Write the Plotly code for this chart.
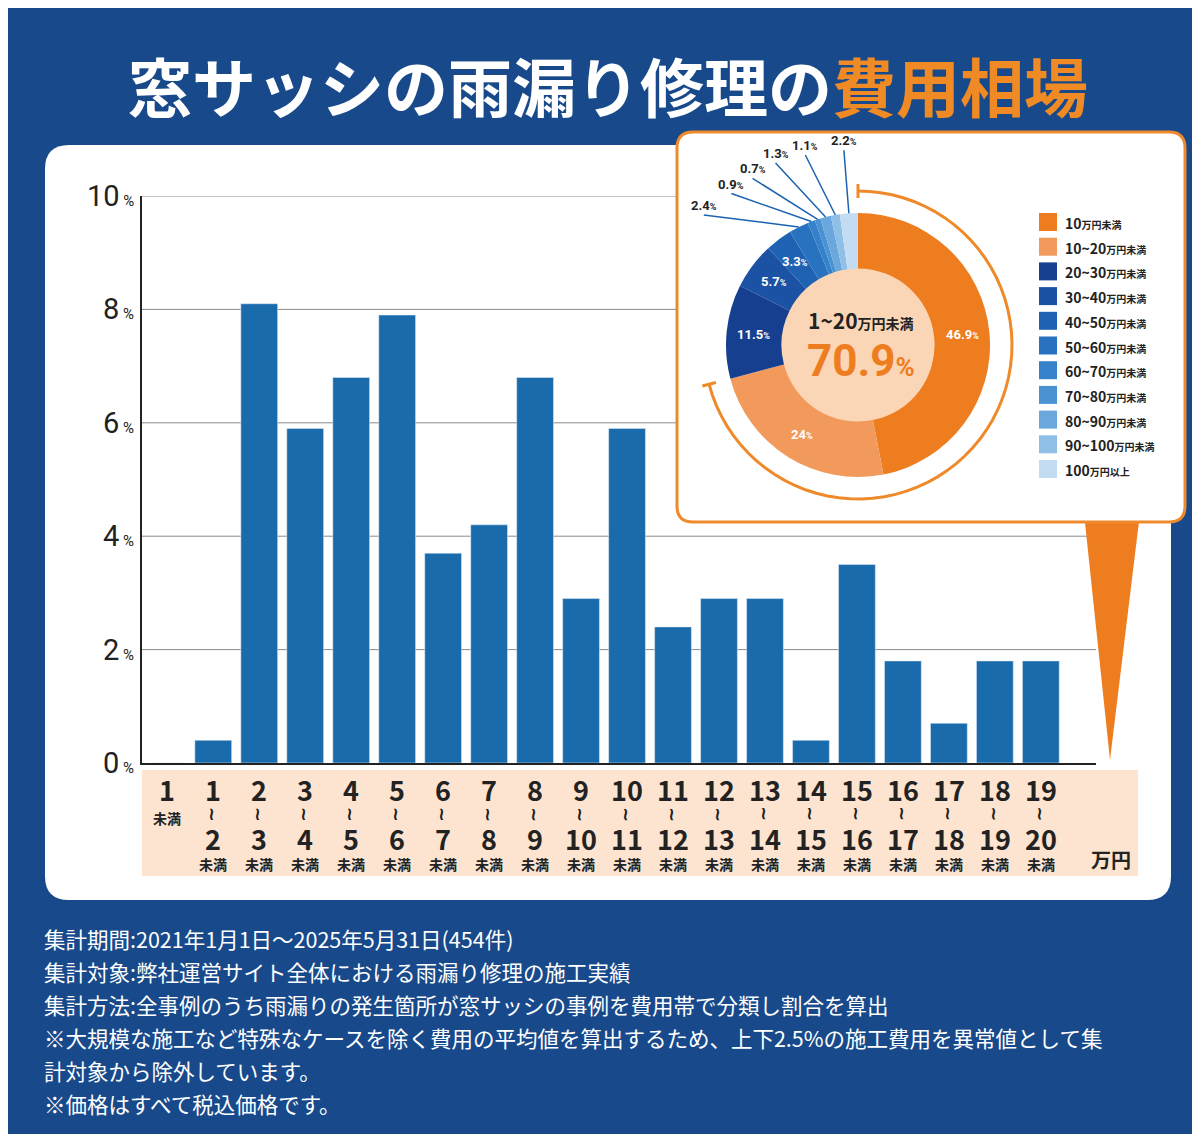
import math
import plotly.graph_objects as go

W, H = 1200, 1134
def px(x): return x / W
def py(y): return 1 - y / H

# ---- data ----
cat_from = ["1", "1", "2", "3", "4", "5", "6", "7", "8", "9", "10", "11", "12", "13", "14", "15", "16", "17", "18", "19"]
cat_to = [None, "2", "3", "4", "5", "6", "7", "8", "9", "10", "11", "12", "13", "14", "15", "16", "17", "18", "19", "20"]
bar_values = [0, 0.4, 8.1, 5.9, 6.8, 7.9, 3.7, 4.2, 6.8, 2.9, 5.9, 2.4, 2.9, 2.9, 0.4, 3.5, 1.8, 0.7, 1.8, 1.8]
y_ticks = [0, 2, 4, 6, 8, 10]

pie_nums = ["10", "10~20", "20~30", "30~40", "40~50", "50~60", "60~70", "70~80", "80~90", "90~100", "100"]
pie_units = ["万円未満"] * 10 + ["万円以上"]
pie_values = [46.9, 24, 11.5, 5.7, 3.3, 2.4, 0.9, 0.7, 1.3, 1.1, 2.2]
pie_labels_txt = ["46.9", "24", "11.5", "5.7", "3.3", "2.4", "0.9", "0.7", "1.3", "1.1", "2.2"]
pie_colors = ["#ee7d1f", "#f19a5b", "#173f8f", "#1b52a3", "#1f62b3", "#2872c0", "#3582ca", "#4b92d3", "#6aa7dc", "#8fbfe7", "#c3dcf1"]
# offsets (px) of outside labels for small slices
outside_offsets = {5: (-95, -12), 6: (-80, -28), 7: (-65, -41), 8: (-50, -54), 9: (-30, -60), 10: (-5, -63)}

BG = "#184a8b"
FONT = "Noto Sans CJK JP"

fig = go.Figure()
fig.add_trace(go.Bar(x=list(range(len(bar_values))), y=bar_values, marker_color="#1a6bac",
                     width=0.8, showlegend=False, hoverinfo="y"))

# pie geometry (pixels)
CX, CY, R = 850, 337, 132
fig.add_trace(go.Pie(values=pie_values, labels=[n + u for n, u in zip(pie_nums, pie_units)],
                     marker=dict(colors=pie_colors, line=dict(width=0)), sort=False,
                     direction="clockwise", rotation=0, hole=0.58, textinfo="none",
                     showlegend=False,
                     domain=dict(x=[px(CX - R), px(CX + R)], y=[py(CY + R), py(CY - R)])))

def rrect(x0, y0, x1, y1, r):
    return (f"M{px(x0+r)},{py(y0)} L{px(x1-r)},{py(y0)} Q{px(x1)},{py(y0)} {px(x1)},{py(y0+r)} "
            f"L{px(x1)},{py(y1-r)} Q{px(x1)},{py(y1)} {px(x1-r)},{py(y1)} L{px(x0+r)},{py(y1)} "
            f"Q{px(x0)},{py(y1)} {px(x0)},{py(y1-r)} L{px(x0)},{py(y0+r)} Q{px(x0)},{py(y0)} {px(x0+r)},{py(y0)} Z")

shapes = []
shapes.append(dict(type="path", path=rrect(37, 137, 1163, 892, 24), xref="paper", yref="paper",
                   fillcolor="white", line=dict(width=0), layer="below"))
for t in y_ticks[1:]:
    shapes.append(dict(type="line", xref="x domain", yref="y", x0=0, x1=1, y0=t, y1=t,
                       line=dict(color="#8a8a8a", width=1), layer="below"))
shapes.append(dict(type="rect", xref="paper", yref="paper", x0=px(134), x1=px(1130), y0=py(868), y1=py(762),
                   fillcolor="#fce4d0", line=dict(width=0), layer="below"))
shapes.append(dict(type="path", xref="paper", yref="paper",
                   path=f"M{px(1076)},{py(505)} L{px(1132)},{py(505)} L{px(1102)},{py(752)} Z",
                   fillcolor="#ee7d1f", line=dict(width=0), layer="below"))
shapes.append(dict(type="path", path=rrect(669, 124, 1177, 514, 16), xref="paper", yref="paper",
                   fillcolor="white", line=dict(color="#ef8a2c", width=3), layer="below"))
shapes.append(dict(type="circle", xref="paper", yref="paper", x0=px(CX - 78), x1=px(CX + 78),
                   y0=py(CY + 78), y1=py(CY - 78), fillcolor="#fbd6b6", line=dict(width=0), layer="below"))
# arc around 1-20 share
share = (pie_values[0] + pie_values[1]) / 100
RA = 154
pts = []
for k in range(61):
    a = math.radians(share * 360 * k / 60)
    pts.append((CX + RA * math.sin(a), CY - RA * math.cos(a)))
path = "M" + " L".join(f"{px(x)},{py(y)}" for x, y in pts)
shapes.append(dict(type="path", xref="paper", yref="paper", path=path, line=dict(color="#ee8a2a", width=3), layer="below"))
for a_deg in (0, share * 360):
    a = math.radians(a_deg)
    x1, y1 = CX + (RA - 7) * math.sin(a), CY - (RA - 7) * math.cos(a)
    x2, y2 = CX + (RA + 7) * math.sin(a), CY - (RA + 7) * math.cos(a)
    shapes.append(dict(type="line", xref="paper", yref="paper", x0=px(x1), y0=py(y1), x1=px(x2), y1=py(y2),
                       line=dict(color="#ee8a2a", width=3)))

ann = []
# title
ann.append(dict(x=0.5, y=py(76), xref="paper", yref="paper", showarrow=False,
                text="<b>窓サッシの雨漏り修理の<span style='color:#f08a24'>費用相場</span></b>",
                font=dict(family=FONT, size=64, color="white")))
# y tick labels
for t in y_ticks:
    ann.append(dict(x=px(128), y=t, xref="paper", yref="y", xanchor="right", showarrow=False,
                    text=f"{t}<span style='font-size:15px'> %</span>",
                    font=dict(family="Roboto", size=29, color="#222")))
# x category labels
lab = dict(family=FONT, size=27, color="#222")
for i, (a, b) in enumerate(zip(cat_from, cat_to)):
    ann.append(dict(x=i, y=py(781), xref="x", yref="paper", showarrow=False, text=f"<b>{a}</b>", font=lab))
    if b is None:
        ann.append(dict(x=i, y=py(810), xref="x", yref="paper", showarrow=False, text="<b>未満</b>",
                        font=dict(family=FONT, size=14, color="#222")))
    else:
        ann.append(dict(x=i, y=py(806), xref="x", yref="paper", showarrow=False, text="<b>~</b>", textangle=90,
                        font=dict(family="DejaVu Sans", size=18, color="#222")))
        ann.append(dict(x=i, y=py(830), xref="x", yref="paper", showarrow=False, text=f"<b>{b}</b>", font=lab))
        ann.append(dict(x=i, y=py(856), xref="x", yref="paper", showarrow=False, text="<b>未満</b>",
                        font=dict(family=FONT, size=14, color="#222")))
ann.append(dict(x=px(1103), y=py(851), xref="paper", yref="paper", showarrow=False, text="<b>万円</b>",
                font=dict(family=FONT, size=20, color="#222")))

# pie labels
cum = 0
total = sum(pie_values)
for i, v in enumerate(pie_values):
    mid = math.radians((cum + v / 2) / total * 360)
    cum += v
    txt = f"<b>{pie_labels_txt[i]}<span style='font-size:9px'>%</span></b>"
    if i in outside_offsets:
        ex, ey = CX + R * math.sin(mid), CY - R * math.cos(mid)
        ox, oy = outside_offsets[i]
        ann.append(dict(x=px(ex), y=py(ey), xref="paper", yref="paper", text=txt, showarrow=True,
                        arrowhead=0, arrowwidth=1.5, arrowcolor="#1b63b0", ax=ox, ay=oy,
                        font=dict(family="Roboto", size=13, color="#222"), xanchor="center", yanchor="bottom"))
    else:
        rr = 105
        ann.append(dict(x=px(CX + rr * math.sin(mid)), y=py(CY - rr * math.cos(mid)), xref="paper", yref="paper",
                        text=txt, showarrow=False, font=dict(family="Roboto", size=13, color="white")))
ann.append(dict(x=px(CX + 3), y=py(312), xref="paper", yref="paper", showarrow=False,
                text="<b>1~20<span style='font-size:14px'>万円未満</span></b>",
                font=dict(family=FONT, size=21, color="#222")))
ann.append(dict(x=px(CX + 3), y=py(353), xref="paper", yref="paper", showarrow=False,
                text="<b>70.9<span style='font-size:26px'>%</span></b>",
                font=dict(family="Roboto", size=44, color="#ee7d1f")))
# legend
for i, (n, u) in enumerate(zip(pie_nums, pie_units)):
    yc = 214 + i * 24.7
    shapes.append(dict(type="rect", xref="paper", yref="paper", x0=px(1031), x1=px(1049), y0=py(yc + 9), y1=py(yc - 9),
                       fillcolor=pie_colors[i], line=dict(width=0)))
    ann.append(dict(x=px(1055), y=py(yc + 1), xref="paper", yref="paper", xanchor="left", showarrow=False,
                    text=f"<b>{n}<span style='font-size:10px'>{u}</span></b>",
                    font=dict(family=FONT, size=14, color="#222")))
# footer
footer = ["集計期間:2021年1月1日～2025年5月31日(454件)",
          "集計対象:弊社運営サイト全体における雨漏り修理の施工実績",
          "集計方法:全事例のうち雨漏りの発生箇所が窓サッシの事例を費用帯で分類し割合を算出",
          "※大規模な施工など特殊なケースを除く費用の平均値を算出するため、上下2.5%の施工費用を異常値として集",
          "計対象から除外しています。",
          "※価格はすべて税込価格です。"]
for i, line in enumerate(footer):
    ann.append(dict(x=px(34), y=py(930 + i * 33), xref="paper", yref="paper", xanchor="left", showarrow=False,
                    text=line, font=dict(family=FONT, size=21.5, color="white")))

for a in ann:
    a.setdefault("xanchor", "center")
    a.setdefault("yanchor", "middle")

fig.update_layout(
    width=W, height=H, margin=dict(l=0, r=0, t=0, b=0), paper_bgcolor=BG, plot_bgcolor="rgba(0,0,0,0)",
    xaxis=dict(domain=[px(134), px(1088)], range=[-0.55, 20.2], showticklabels=False, showgrid=False,
               zeroline=False, showline=True, linecolor="#222", linewidth=1.5, fixedrange=True),
    yaxis=dict(domain=[py(755), py(188)], range=[0, 10], showticklabels=False, showgrid=False,
               zeroline=False, showline=True, linecolor="#222", linewidth=1.5, fixedrange=True),
    shapes=shapes, annotations=ann, bargap=0.2,
)
fig.write_html("out.html")
